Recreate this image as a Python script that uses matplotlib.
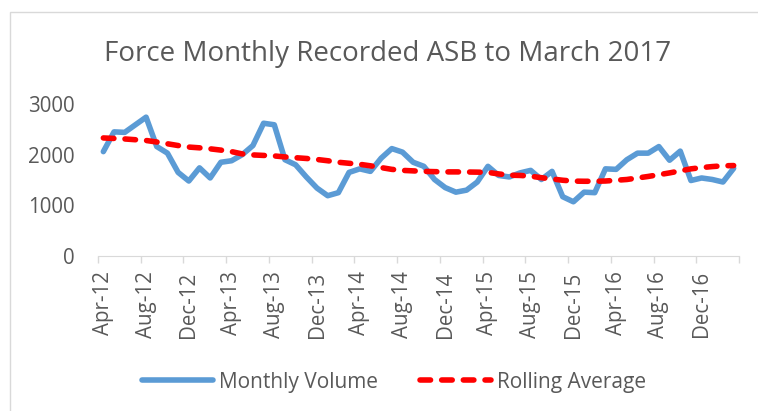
import numpy as np
import matplotlib
matplotlib.use("Agg")
import matplotlib.pyplot as plt
from matplotlib.patches import Rectangle

plt.rcParams['font.family'] = ['Open Sans', 'DejaVu Sans']

# Apr-12 .. Mar-17
months = ['Apr', 'May', 'Jun', 'Jul', 'Aug', 'Sep', 'Oct', 'Nov', 'Dec', 'Jan', 'Feb', 'Mar']
labels = []
for k in range(60):
    m = months[k % 12]
    yr = 12 + (k + 3) // 12
    labels.append(f"{m}-{yr}")

monthly_volume = [
    2060, 2450, 2440, 2590, 2740, 2160, 2030, 1650, 1480, 1740,
    1540, 1850, 1880, 2000, 2180, 2620, 2590, 1900, 1800, 1560,
    1340, 1190, 1250, 1650, 1720, 1670, 1930, 2120, 2050, 1850,
    1770, 1510, 1350, 1260, 1300, 1460, 1770, 1590, 1560, 1640,
    1690, 1510, 1670, 1170, 1070, 1260, 1250, 1720, 1710, 1900,
    2030, 2030, 2160, 1890, 2070, 1490, 1540, 1510, 1460, 1730,
]

rolling_average = [
    2330, 2320, 2310, 2295, 2280, 2250, 2215, 2180, 2150, 2135,
    2115, 2090, 2060, 2015, 1995, 1985, 1975, 1955, 1940, 1925,
    1905, 1880, 1850, 1830, 1810, 1780, 1745, 1710, 1690, 1680,
    1670, 1665, 1660, 1660, 1658, 1655, 1650, 1620, 1595, 1590,
    1575, 1545, 1520, 1495, 1478, 1475, 1475, 1480, 1495, 1510,
    1540, 1570, 1605, 1640, 1680, 1720, 1745, 1765, 1780, 1785,
]

text_col = '#595959'
W, H = 758, 411
fig = plt.figure(figsize=(W / 100, H / 100), dpi=100)

# chart area border (only left/top edges visible)
fig.patches.append(Rectangle((10 / W, -0.1), 1.2, 1 - 12 / H + 0.1, transform=fig.transFigure,
                             fill=False, edgecolor='#d9d9d9', linewidth=1))

ax = fig.add_axes([98 / W, 1 - 256 / H, (739 - 98) / W, (256 - 104) / H])
x = np.arange(len(monthly_volume))
ax.plot(x, monthly_volume, color='#5B9BD5', linewidth=4, solid_joinstyle='round',
        solid_capstyle='round', label='Monthly Volume')
ax.plot(x, rolling_average, color='#FF0000', linewidth=4, linestyle=(0, (1.9, 2.0)),
        dash_capstyle='round', label='Rolling Average')

ax.set_xlim(-0.5, 59.5)
ax.set_ylim(0, 3000)
ax.set_yticks([0, 1000, 2000, 3000])
ax.tick_params(axis='y', length=0, pad=16.5, labelsize=14.8, labelcolor=text_col)

ax.set_xticks(x[::4])
ax.set_xticklabels(labels[::4], rotation=90)
ax.set_xticks(np.arange(-0.5, 60, 4), minor=True)
ax.tick_params(axis='x', which='major', length=0, pad=11, labelsize=14.8, labelcolor=text_col)
ax.tick_params(axis='x', which='minor', length=5, color='#d9d9d9', width=1)

for s in ['top', 'right', 'left']:
    ax.spines[s].set_visible(False)
ax.spines['bottom'].set_color('#d9d9d9')

fig.text(388 / W, 1 - 54 / H, 'Force Monthly Recorded ASB to March 2017', ha='center', va='center',
         fontsize=20, color=text_col)

fig.legend(loc='center', bbox_to_anchor=(394 / W, 1 - 382 / H), ncol=2, frameon=False,
           fontsize=15, labelcolor=text_col, handlelength=3.4, columnspacing=2.0, handletextpad=0.3)

fig.savefig('out.png', dpi=100)
